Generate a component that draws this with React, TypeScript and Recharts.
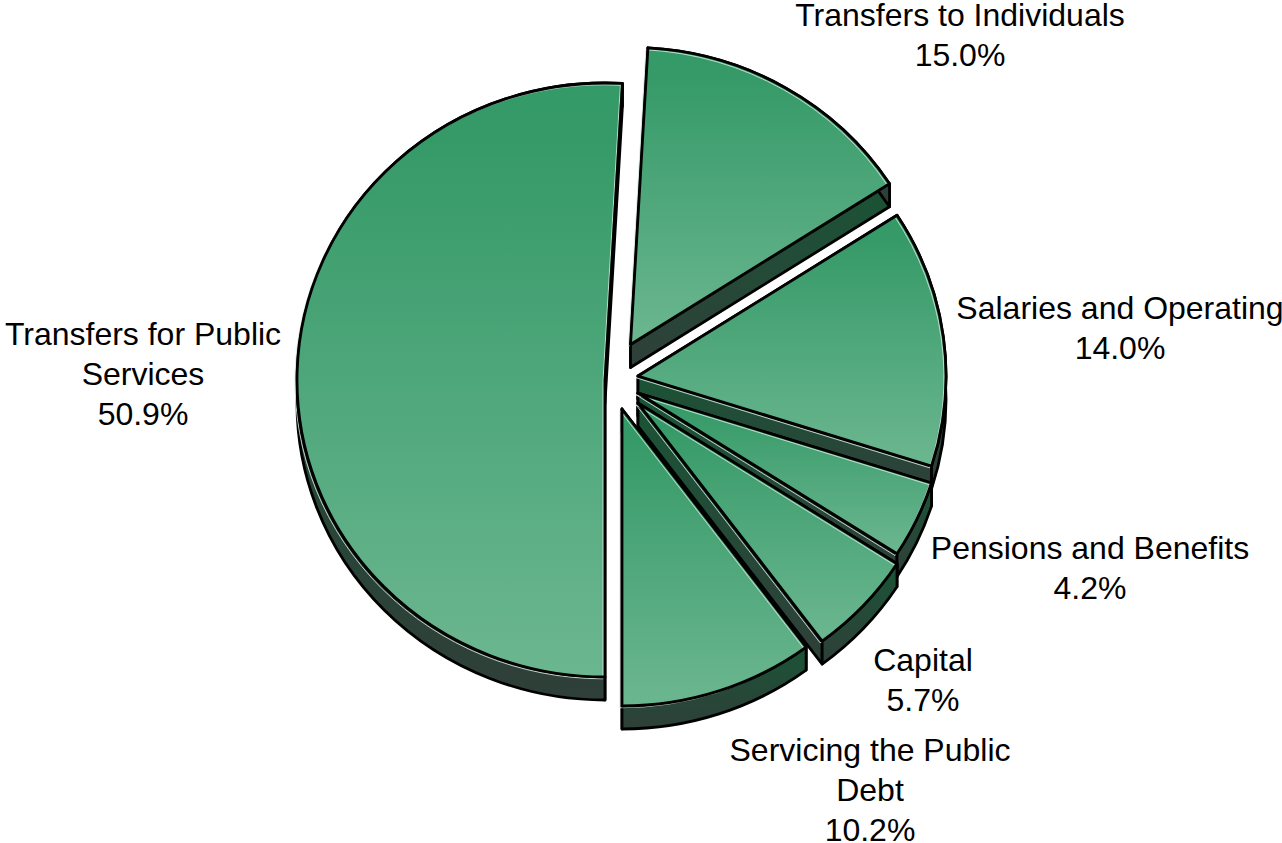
import React from "react";
import { PieChart, Pie } from "recharts";

const categories = [
  "Transfers for Public Services",
  "Transfers to Individuals",
  "Salaries and Operating",
  "Pensions and Benefits",
  "Capital",
  "Servicing the Public Debt",
];
const shares = [50.9, 15.0, 14.0, 4.2, 5.7, 10.2];
const nameLines = [
  ["Transfers for Public", "Services"],
  ["Transfers to Individuals"],
  ["Salaries and Operating"],
  ["Pensions and Benefits"],
  ["Capital"],
  ["Servicing the Public", "Debt"],
];

const data = categories.map((name, i) => ({ name, value: shares[i] }));

// Styling of the exploded pseudo-3D pie
const CX = 620;
const CY = 380;
const RX = 308;
const RY_RATIO = 297 / 308;
const DEPTH = 23;
const EXPLODE = [
  [-15, 0],
  [10.5, -35.5],
  [18, -4],
  [18, 13],
  [18, 23],
  [2, 29],
];
const LABEL_POS = [
  [143, 345],
  [960, 26],
  [1120, 319],
  [1090, 559],
  [923, 671],
  [870, 761],
];
const FONT = "'Liberation Sans', Arial, sans-serif";
const FONT_SIZE = 32;
const LINE_H = 40;
const OUTLINE = 2.8;

const SliceShape = (props: any) => {
  const { cx, cy, outerRadius, startAngle, endAngle, index } = props;
  const [dx, dy] = EXPLODE[index];
  const ax = cx + dx;
  const ay = cy + dy;
  const rx = outerRadius;
  const ry = outerRadius * RY_RATIO;
  const pt = (a: number) => {
    const t = (a * Math.PI) / 180;
    return [ax + rx * Math.cos(t), ay - ry * Math.sin(t)];
  };
  const s = pt(startAngle);
  const e = pt(endAngle);
  const large = Math.abs(endAngle - startAngle) > 180 ? 1 : 0;
  const sweep = endAngle < startAngle ? 1 : 0;
  const d = DEPTH;
  const full = `M${ax} ${ay}L${s[0]} ${s[1]}A${rx} ${ry} 0 ${large} ${sweep} ${e[0]} ${e[1]}Z`;
  const arcSide =
    `M${s[0]} ${s[1]}A${rx} ${ry} 0 ${large} ${sweep} ${e[0]} ${e[1]}` +
    `L${e[0]} ${e[1] + d}A${rx} ${ry} 0 ${large} ${1 - sweep} ${s[0]} ${s[1] + d}Z`;
  const edgeA = `M${ax} ${ay}L${s[0]} ${s[1]}L${s[0]} ${s[1] + d}L${ax} ${ay + d}Z`;
  const edgeB = `M${ax} ${ay}L${e[0]} ${e[1]}L${e[0]} ${e[1] + d}L${ax} ${ay + d}Z`;
  const sideProps = {
    fill: "url(#sideGrad)",
    stroke: "#000",
    strokeWidth: OUTLINE,
    strokeLinejoin: "round" as const,
  };
  return (
    <g>
      <path d={edgeA} {...sideProps} />
      <path d={edgeB} {...sideProps} />
      <path d={arcSide} {...sideProps} />
      <path d={full} fill="url(#topGrad)" />
      <path d={full} transform="translate(-2 1.8)" fill="none" stroke="#cfe2d7" strokeWidth={0.9} />
      <path d={full} fill="none" stroke="#000" strokeWidth={OUTLINE} strokeLinejoin="round" />
    </g>
  );
};

const SliceLabel = (props: any) => {
  const { index, value } = props;
  const [x, y] = LABEL_POS[index];
  const lines = [...nameLines[index], `${Number(value).toFixed(1)}%`];
  return (
    <text x={x} y={y} textAnchor="middle" fontFamily={FONT} fontSize={FONT_SIZE} fill="#000">
      {lines.map((l, i) => (
        <tspan key={i} x={x} dy={i === 0 ? 0 : LINE_H}>
          {l}
        </tspan>
      ))}
    </text>
  );
};

export default function App() {
  return (
    <div style={{ position: "fixed", left: 0, top: 0, width: 1282, height: 843, background: "#fff" }}>
      <PieChart width={1282} height={843} margin={{ top: 0, right: 0, bottom: 0, left: 0 }}>
        <defs>
          <linearGradient id="topGrad" x1="0" y1="0" x2="0" y2="1">
            <stop offset="0" stopColor="#349a67" />
            <stop offset="0.1" stopColor="#369a68" />
            <stop offset="0.95" stopColor="#69b58e" />
            <stop offset="1" stopColor="#6ab68f" />
          </linearGradient>
          <linearGradient id="sideGrad" x1="0" y1="0" x2="0" y2="1">
            <stop offset="0" stopColor="#1a5436" />
            <stop offset="1" stopColor="#2f3f39" />
          </linearGradient>
        </defs>
        <Pie
          data={data}
          dataKey="value"
          nameKey="name"
          cx={CX}
          cy={CY}
          innerRadius={0}
          outerRadius={RX}
          startAngle={270}
          endAngle={-90}
          paddingAngle={0}
          isAnimationActive={false}
          shape={SliceShape}
          label={SliceLabel}
          labelLine={false}
          rootTabIndex={-1}
        />
      </PieChart>
    </div>
  );
}
